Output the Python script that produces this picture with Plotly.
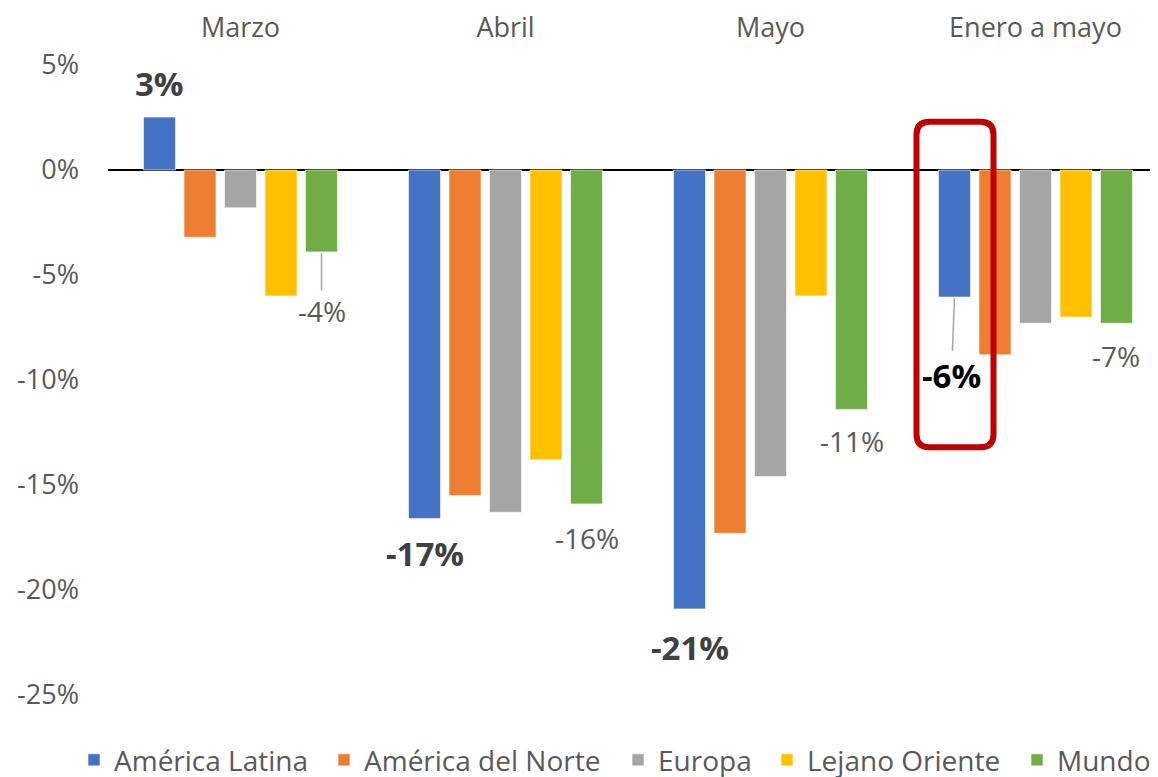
import plotly.graph_objects as go

categories = ["Marzo", "Abril", "Mayo", "Enero a mayo"]
series_names = ["América Latina", "América del Norte", "Europa", "Lejano Oriente", "Mundo"]
america_latina = [2.52, -16.6, -20.9, -6.05]
america_norte = [-3.2, -15.5, -17.3, -8.8]
europa = [-1.8, -16.3, -14.6, -7.3]
lejano_oriente = [-6.0, -13.8, -6.0, -7.0]
mundo = [-3.9, -15.9, -11.4, -7.3]
colors = ["#4472C4", "#ED7D31", "#A5A5A5", "#FFC000", "#70AD47"]
tick_values = [5, 0, -5, -10, -15, -20, -25]
tick_labels = ["5%", "0%", "-5%", "-10%", "-15%", "-20%", "-25%"]

FONT = "Open Sans"
GRAY = "#595959"
xpos = list(range(len(categories)))

legend_ids = ["legend", "legend2", "legend3", "legend4", "legend5"]
legend_x = [66, 316, 610, 759, 1009]  # px, left edge of each legend box

fig = go.Figure()
for name, vals, col, lid in zip(series_names,
                                [america_latina, america_norte, europa, lejano_oriente, mundo],
                                colors, legend_ids):
    fig.add_trace(go.Bar(x=xpos, y=vals, name=name, marker_color=col, legend=lid,
                         marker_line=dict(color="rgba(255,255,255,0.6)", width=1)))

slot = 40.5  # px between bar centres in a group
pxu = 265.0  # px per category unit
ML, MT, MB = 100, 35, 65
plot_w = 1158 - ML
plot_h = 777 - MT - MB
ypx = 21.0  # px per percent
zero_px = 162  # px from figure top to the 0% line

def fmt(v):
    return f"{round(v):d}%"


# (series values, category index, bar slot offset, bold, colour, yshift, xshift extra, arrow)
labels = [
    (america_latina, 0, -2, True, "#404040", 34, 0, False),
    (mundo, 0, 2, False, GRAY, -59, 0, True),
    (america_latina, 1, -2, True, "#404040", -35, 0, False),
    (mundo, 1, 2, False, GRAY, -34, 0, False),
    (america_latina, 2, -2, True, "#404040", -39, 0, False),
    (mundo, 2, 2, False, GRAY, -32, 0, False),
    (america_latina, 3, -2, True, "#000000", -78, -3, True),
    (mundo, 3, 2, False, GRAY, -33, -1, False),
]
for vals, ci, off, bold, col, ysh, xsh, arrow in labels:
    v = vals[ci]
    txt = fmt(v)
    size = 33 if bold else 28
    if bold:
        txt = f"<b>{txt}</b>"
    xv = ci + off * slot / pxu
    if arrow:
        fig.add_annotation(x=xv, y=v, xref="x", yref="y", text=txt, showarrow=True,
                           arrowhead=0, arrowwidth=1.5, arrowcolor="#A5A5A5",
                           ax=xsh, ay=-ysh, standoff=1,
                           font=dict(family=FONT, size=size, color=col))
    else:
        fig.add_annotation(x=xv, y=v, xref="x", yref="y", text=txt, showarrow=False,
                           xshift=xsh, yshift=ysh,
                           font=dict(family=FONT, size=size, color=col))

# red highlight box around América Latina, Enero a mayo
bx = 3 - 2 * slot / pxu
x0, x1 = bx - 38 / pxu, bx + 39 / pxu
y0, y1 = -13.2, 2.3
rx, ry = 13 / pxu, 13 / ypx
path = (f"M{x0 + rx},{y1} L{x1 - rx},{y1} Q{x1},{y1} {x1},{y1 - ry} "
        f"L{x1},{y0 + ry} Q{x1},{y0} {x1 - rx},{y0} L{x0 + rx},{y0} "
        f"Q{x0},{y0} {x0},{y0 + ry} L{x0},{y1 - ry} Q{x0},{y1} {x0 + rx},{y1} Z")
fig.add_shape(type="path", path=path, xref="x", yref="y",
              line=dict(color="#C00000", width=6))

legend_common = dict(orientation="h", xref="container", yref="container",
                     xanchor="left", y=0.032, yanchor="middle",
                     font=dict(family=FONT, size=28, color=GRAY),
                     itemwidth=30, bgcolor="rgba(0,0,0,0)")
legends = {}
for lid, lx in zip(legend_ids, legend_x):
    legends[lid] = dict(legend_common, x=lx / 1158)

y_top = (zero_px - MT) / ypx
fig.update_layout(
    width=1158, height=777,
    margin=dict(l=ML, r=0, t=MT, b=MB, autoexpand=False),
    paper_bgcolor="white", plot_bgcolor="white",
    barmode="group", bargap=0.236, bargroupgap=0.21,
    font=dict(family=FONT, size=27, color=GRAY),
    showlegend=True,
    xaxis=dict(side="top", tickvals=xpos, ticktext=categories, automargin=False,
               range=[-0.5, -0.5 + plot_w / pxu], showgrid=False, zeroline=False,
               showline=False, ticks="", tickfont=dict(size=27, color=GRAY),
               ticklabelstandoff=0),
    yaxis=dict(range=[y_top - plot_h / ypx, y_top], tickvals=tick_values,
               ticktext=tick_labels, automargin=False,
               showgrid=False, zeroline=True, zerolinecolor="black", zerolinewidth=1.5,
               showline=False, ticks="", ticklabelstandoff=28,
               tickfont=dict(size=27, color=GRAY)),
    **legends,
)

fig.write_html("out.html")
